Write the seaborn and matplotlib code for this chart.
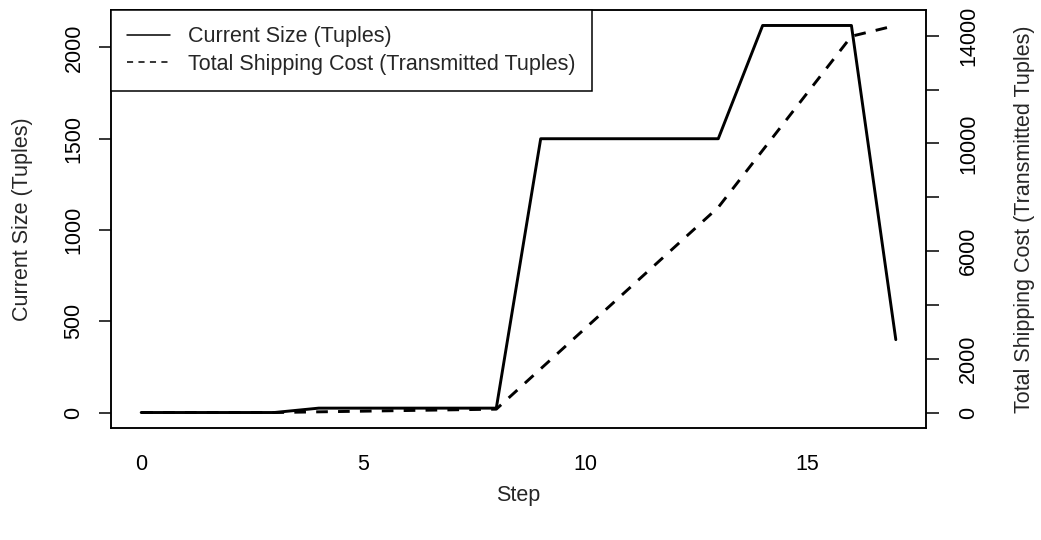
import pandas as pd
import matplotlib
matplotlib.use("Agg")
import matplotlib.pyplot as plt
from matplotlib.lines import Line2D
import seaborn as sns

# data
steps = list(range(18))
current_size = [1, 1, 1, 1, 25, 25, 25, 25, 25, 1500, 1500, 1500, 1500, 1500, 2120, 2120, 2120, 400]
shipping_cost = [0, 0, 0, 0, 25, 50, 75, 100, 125, 1625, 3125, 4625, 6125, 7625, 9745, 11865, 13985, 14385]

size_label = "Current Size (Tuples)"
cost_label = "Total Shipping Cost (Transmitted Tuples)"
right_ticks = [0, 2000, 4000, 6000, 8000, 10000, 12000, 14000]
right_shown = [0, 2000, 6000, 10000, 14000]

df = pd.DataFrame({"step": steps, "size": current_size, "cost": shipping_cost})

sns.set_theme(style="white")
plt.rcParams["font.family"] = ["Liberation Sans", "DejaVu Sans"]
plt.rcParams["font.size"] = 15.5
plt.rcParams["axes.linewidth"] = 1.1
plt.rcParams["axes.edgecolor"] = "black"


def rlim(vals):
    # R style 4% padding
    lo, hi = min(vals), max(vals)
    d = (hi - lo) * 0.04
    return lo - d, hi + d


fig, ax = plt.subplots(figsize=(10.41, 5.4), dpi=100)
fig.subplots_adjust(left=111 / 1041, right=926 / 1041, top=1 - 10 / 540, bottom=1 - 428 / 540)

sns.lineplot(data=df, x="step", y="size", ax=ax, color="black", linewidth=2.1)
ax.set_xlim(*rlim(steps))
ax.set_ylim(*rlim(current_size))
ax.set_xticks([0, 5, 10, 15])
ax.set_yticks([0, 500, 1000, 1500, 2000])
ax.set_xlabel("Step", fontsize=15.5, labelpad=7)
ax.set_ylabel(size_label, fontsize=15.5, labelpad=22)
ax.tick_params(axis="x", direction="out", length=9, width=1.1, pad=10, labelsize=15.5, colors="black")
ax.tick_params(axis="y", direction="out", length=9, width=1.1, pad=10, labelsize=15.5, colors="black")
for t in ax.get_yticklabels():
    t.set_rotation(90)
    t.set_va("center")

ax2 = ax.twinx()
sns.lineplot(data=df, x="step", y="cost", ax=ax2, color="black", linewidth=2.1,
             linestyle=(0, (4, 3.5)))
ax2.set_ylim(*rlim(shipping_cost))
ax2.set_yticks(right_ticks)
ax2.set_yticklabels([str(v) if v in right_shown else "" for v in right_ticks])
ax2.set_ylabel(cost_label, fontsize=15.5, labelpad=25)
ax2.tick_params(axis="y", direction="out", length=9, width=1.1, pad=14, labelsize=15.5, colors="black")
for t in ax2.get_yticklabels():
    t.set_rotation(90)
    t.set_va("center")

handles = [Line2D([], [], color="black", linewidth=1.1),
           Line2D([], [], color="black", linewidth=1.1, linestyle=(0, (4, 3.5)))]
leg = ax2.legend(handles, [size_label, cost_label], loc="upper left", bbox_to_anchor=(0, 1),
                 borderaxespad=0, fancybox=False, framealpha=1, edgecolor="black",
                 fontsize=15.5, handlelength=2.0, handletextpad=0.85, labelspacing=0.3,
                 borderpad=0.75)
leg.get_frame().set_linewidth(1.1)
for sp in ax2.spines.values():
    sp.set_linewidth(1.1)

fig.savefig("out.png", dpi=100)
